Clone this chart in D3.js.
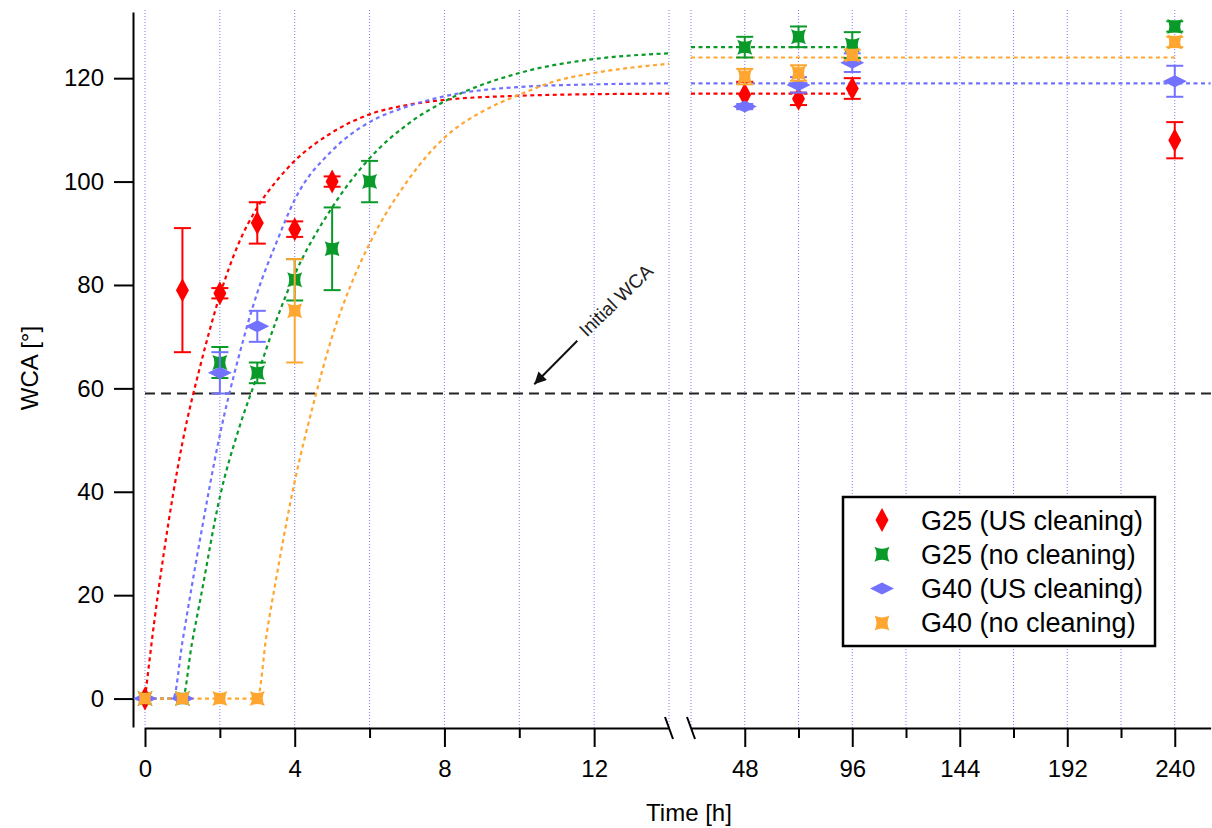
<!DOCTYPE html>
<html>
<head>
<meta charset="utf-8">
<script src="https://cdn.jsdelivr.net/npm/d3@7"></script>
<style>
  body { margin: 0; background: #fff; }
  svg { display: block; font-family: "Liberation Sans", Arial, sans-serif; }
</style>
</head>
<body>
<svg id="chart" width="1212" height="828"></svg>
<script>
// --- Data ---
const g25usT = [0, 1, 2, 3, 4, 5, 48, 72, 96, 240];
const g25usY = [0, 79, 78.4, 92, 90.8, 100, 116.8, 116, 118, 108];
const g25usErr = [0, 12, 1, 4, 1.5, 1, 2.5, 1.2, 2, 3.5];

const g25ncT = [0, 1, 2, 3, 4, 5, 6, 48, 72, 96, 240];
const g25ncY = [0, 0, 65, 63, 81, 87, 100, 126, 128, 126.4, 130];
const g25ncErr = [0, 0, 3, 2, 4, 8, 4, 2, 2, 2.5, 1];

const g40usT = [0, 1, 2, 3, 48, 72, 96, 240];
const g40usY = [0, 0, 63, 72, 114.5, 118.7, 123, 119.4];
const g40usErr = [0, 0, 4, 3, 0.5, 1.5, 1.8, 3];

const g40ncT = [0, 1, 2, 3, 4, 48, 72, 96, 240];
const g40ncY = [0, 0, 0, 0, 75, 120.3, 121, 124.5, 127];
const g40ncErr = [0, 0, 0, 0, 10, 1.5, 1.5, 1, 1];

// fitted curves, points [time, WCA]
const g25usFit = [[0, 0], [0.25, 15], [0.5, 28], [1, 49.5], [1.5, 65], [2, 78], [2.5, 88], [3, 95],
  [3.5, 100], [4, 104], [5, 109.5], [6, 113], [7, 114.8], [8, 115.8], [10, 116.6], [12, 116.9],
  [14, 117], [24, 117], [96, 117]];
const g25ncFit = [[0, 0], [1, 0], [1.25, 10.5], [1.5, 20], [2, 39], [2.5, 52], [3, 62.5], [3.5, 73],
  [4, 82], [5, 95], [6, 104.5], [7, 111], [8, 115.5], [10, 121], [12, 123.7], [14, 124.8],
  [24, 126], [96, 126]];
const g40usFit = [[0, 0], [0.75, 0], [1, 11], [1.5, 32], [2, 51], [2.5, 66], [3, 78.5], [3.5, 88],
  [4, 96.5], [5, 106], [6, 111.5], [7, 114.5], [8, 116.5], [10, 118.3], [12, 118.8], [14, 119],
  [24, 119], [256, 119]];
const g40ncFit = [[0, 0], [3, 0], [3.25, 12.5], [3.5, 23], [4, 42], [4.5, 57], [5, 70], [5.5, 80],
  [6, 88], [7, 100], [8, 108.5], [9, 113.5], [10, 116.8], [11, 119.5], [12, 121], [14, 122.8],
  [24, 124], [240, 124]];

const initialWCA = 59;

const leftMajor = [0, 4, 8, 12];
const leftMinor = [2, 6, 10];
const rightMajor = [48, 96, 144, 192, 240];
const rightMinor = [72, 120, 168, 216];
const yTicks = [0, 20, 40, 60, 80, 100, 120];

const series = [
  { name: "G25 (US cleaning)", t: g25usT, v: g25usY, e: g25usErr, fit: g25usFit, color: "#ff0000", shape: "diamondV" },
  { name: "G25 (no cleaning)", t: g25ncT, v: g25ncY, e: g25ncErr, fit: g25ncFit, color: "#0a9a2a", shape: "star" },
  { name: "G40 (US cleaning)", t: g40usT, v: g40usY, e: g40usErr, fit: g40usFit, color: "#7272ff", shape: "diamondH" },
  { name: "G40 (no cleaning)", t: g40ncT, v: g40ncY, e: g40ncErr, fit: g40ncFit, color: "#ffa630", shape: "star" }
];

// --- Setup ---
const svg = d3.select("#chart");

// broken time axis: 0-14 h and 24-256 h
const xLeft = d3.scaleLinear().domain([0, 14]).range([145, 669]);
const xRight = d3.scaleLinear().domain([24, 256]).range([691, 1210.6]);
const x = (t) => (t <= 14 ? xLeft(t) : xRight(t));
const y = d3.scaleLinear().domain([-5.5, 132.8]).range([727, 12]);
const axisY = 728;

const shapes = {
  diamondV: "M0,-12L6.5,0L0,12L-6.5,0Z",
  diamondH: "M-12,0L0,-6L12,0L0,6Z",
  star: "M-7.5,-7.5Q0,-3.5 7.5,-7.5Q3.5,0 7.5,7.5Q0,3.5 -7.5,7.5Q-3.5,0 -7.5,-7.5Z"
};

svg
  .append("defs")
  .append("marker")
  .attr("id", "arrow-head")
  .attr("viewBox", "0 -5 10 10")
  .attr("refX", 10)
  .attr("refY", 0)
  .attr("markerUnits", "userSpaceOnUse")
  .attr("markerWidth", 17)
  .attr("markerHeight", 12)
  .attr("orient", "auto")
  .append("path")
  .attr("d", "M0,-5L10,0L0,5Z")
  .attr("fill", "#111");

// Vertical dotted grid
const gridTimes = d3.range(0, 15, 2).concat(d3.range(24, 241, 24));
svg
  .append("g")
  .selectAll("line")
  .data(gridTimes)
  .enter()
  .append("line")
  .attr("x1", (d) => x(d))
  .attr("x2", (d) => x(d))
  .attr("y1", 10)
  .attr("y2", axisY)
  .attr("stroke", "#7b7bff")
  .attr("stroke-width", 1)
  .attr("stroke-dasharray", "1,2");

// Axes
function styleAxis(g, size) {
  g.selectAll("path.domain").attr("stroke", "#000").attr("stroke-width", 2);
  g.selectAll(".tick line").attr("stroke", "#000").attr("stroke-width", 2);
  g.selectAll(".tick text")
    .attr("font-size", size)
    .attr("font-family", "'Liberation Sans', Arial, sans-serif")
    .attr("fill", "#000");
}

const xAxes = [
  [xLeft, leftMajor, leftMinor],
  [xRight, rightMajor, rightMinor]
];
xAxes.forEach(([scale, major, minor]) => {
  svg
    .append("g")
    .attr("transform", `translate(0,${axisY})`)
    .call(d3.axisBottom(scale).tickValues(major).tickSize(19).tickPadding(13).tickSizeOuter(0))
    .call((g) => styleAxis(g, 24));
  svg
    .append("g")
    .attr("transform", `translate(0,${axisY})`)
    .call(d3.axisBottom(scale).tickValues(minor).tickSize(10).tickFormat("").tickSizeOuter(0))
    .call((g) => g.select(".domain").remove())
    .call((g) => styleAxis(g, 24));
});

// break marks
svg
  .append("g")
  .selectAll("line")
  .data([xLeft(14), xRight(24)])
  .enter()
  .append("line")
  .attr("x1", (d) => d - 4)
  .attr("x2", (d) => d + 4)
  .attr("y1", axisY - 11)
  .attr("y2", axisY + 11)
  .attr("stroke", "#000")
  .attr("stroke-width", 2);

svg
  .append("g")
  .attr("transform", "translate(133,0)")
  .call(d3.axisLeft(y).tickValues(yTicks).tickSize(19).tickPadding(10).tickSizeOuter(0))
  .call((g) => styleAxis(g, 24));

// Axis titles
svg
  .append("text")
  .attr("x", 689)
  .attr("y", 821)
  .attr("text-anchor", "middle")
  .attr("font-size", 24)
  .text("Time [h]");

svg
  .append("text")
  .attr("transform", "translate(38,368) rotate(-90)")
  .attr("text-anchor", "middle")
  .attr("font-size", 24)
  .text("WCA [°]");

// Initial WCA reference line
svg
  .append("line")
  .attr("x1", x(0))
  .attr("x2", 1212)
  .attr("y1", y(initialWCA))
  .attr("y2", y(initialWCA))
  .attr("stroke", "#222")
  .attr("stroke-width", 2)
  .attr("stroke-dasharray", "10,6");

svg
  .append("line")
  .attr("x1", x(11.55))
  .attr("y1", y(69.2))
  .attr("x2", x(10.4))
  .attr("y2", y(60.8))
  .attr("stroke", "#111")
  .attr("stroke-width", 2)
  .attr("marker-end", "url(#arrow-head)");

svg
  .append("text")
  .attr("transform", `translate(${x(11.8)},${y(69.8)}) rotate(-44)`)
  .attr("font-size", 19)
  .attr("fill", "#222")
  .text("Initial WCA");

// Fit curves, drawn per axis segment
const line = d3
  .line()
  .x((d) => x(d[0]))
  .y((d) => y(d[1]))
  .curve(d3.curveMonotoneX);

series.forEach((s) => {
  const parts = [s.fit.filter((d) => d[0] <= 14), s.fit.filter((d) => d[0] >= 24)];
  svg
    .append("g")
    .selectAll("path")
    .data(parts)
    .enter()
    .append("path")
    .attr("d", line)
    .attr("fill", "none")
    .attr("stroke", s.color)
    .attr("stroke-width", 2.2)
    .attr("stroke-dasharray", "4,3.5");
});

// Error bars and markers
series.forEach((s) => {
  const pts = s.t.map((t, i) => ({ t: t, v: s.v[i], e: s.e[i] }));
  const g = svg.append("g");
  const bars = g
    .selectAll("g.err")
    .data(pts.filter((d) => d.e > 0))
    .enter()
    .append("g")
    .attr("class", "err")
    .attr("stroke", s.color)
    .attr("stroke-width", 2);
  bars
    .append("line")
    .attr("x1", (d) => x(d.t))
    .attr("x2", (d) => x(d.t))
    .attr("y1", (d) => y(d.v - d.e))
    .attr("y2", (d) => y(d.v + d.e));
  [-1, 1].forEach((sign) => {
    bars
      .append("line")
      .attr("x1", (d) => x(d.t) - 8.5)
      .attr("x2", (d) => x(d.t) + 8.5)
      .attr("y1", (d) => y(d.v + sign * d.e))
      .attr("y2", (d) => y(d.v + sign * d.e));
  });
  g.selectAll("path")
    .data(pts)
    .enter()
    .append("path")
    .attr("d", shapes[s.shape])
    .attr("transform", (d) => `translate(${x(d.t)},${y(d.v)})`)
    .attr("fill", s.color);
});

// Legend
const legend = svg.append("g").attr("transform", "translate(843,497)");
legend
  .append("rect")
  .attr("width", 312)
  .attr("height", 149)
  .attr("fill", "#fff")
  .attr("stroke", "#000")
  .attr("stroke-width", 2.5);

const rows = legend
  .selectAll("g.row")
  .data(series)
  .enter()
  .append("g")
  .attr("class", "row")
  .attr("transform", (d, i) => `translate(0,${23 + i * 34.3})`);

rows
  .append("path")
  .attr("d", (d) => shapes[d.shape])
  .attr("transform", "translate(39,0)")
  .attr("fill", (d) => d.color);

rows
  .append("text")
  .attr("x", 78)
  .attr("y", 9.5)
  .attr("font-size", 27)
  .attr("fill", "#000")
  .text((d) => d.name);
</script>
</body>
</html>
